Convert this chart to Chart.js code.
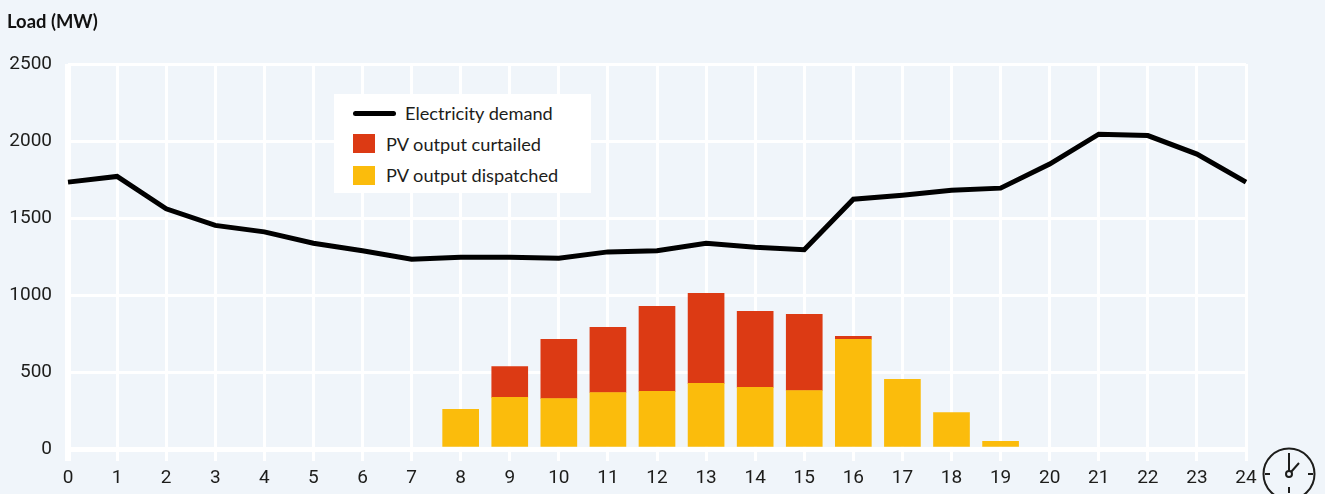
<!DOCTYPE html>
<html>
<head>
<meta charset="utf-8">
<title>Load chart</title>
<script src="https://cdn.jsdelivr.net/npm/chart.js@4"></script>
<style>
  html, body { margin: 0; padding: 0; background: #f0f5fa; overflow: hidden; }
  body { width: 1325px; height: 494px; position: relative; font-family: Lato, sans-serif; color: #1d1d1b; }
  #wrap { position: absolute; left: 0; top: 0; width: 1325px; height: 494px; }
  #axisTitle { position: absolute; left: 7px; top: 11px; font-size: 18.4px; line-height: 20px; font-weight: 700; color: #111; }
  #legend { position: absolute; left: 334px; top: 94px; width: 257px; height: 99px; background: #fff; font-size: 18.2px; }
  #legend div { position: absolute; white-space: nowrap; line-height: 20px; }
  #legend i { position: absolute; display: block; }
  #clock { position: absolute; left: 1260px; top: 445px; }
</style>
</head>
<body>
<div id="wrap"><canvas id="myChart" width="1325" height="494"></canvas></div>
<div id="axisTitle">Load (MW)</div>
<div id="legend">
  <i style="left:19px;top:17px;width:43px;height:5px;background:#000;border-radius:2.5px"></i>
  <div id="lgDemand" style="left:71px;top:9px"></div>
  <i style="left:19px;top:40px;width:22px;height:19px;background:#dc3a14"></i>
  <div id="lgCurtailed" style="left:52px;top:40px"></div>
  <i style="left:19px;top:72px;width:22px;height:19px;background:#fbbc0c"></i>
  <div id="lgDispatched" style="left:52px;top:71px"></div>
</div>
<svg id="clock" width="60" height="49" viewBox="0 0 60 49" fill="none" stroke="#1d1d1b" stroke-width="2">
  <circle cx="29" cy="29" r="25.5"/>
  <circle cx="29" cy="29" r="3"/>
  <path d="M29 26V8M31 27L39 18M5 29H10M48 29H53M29 48V42"/>
</svg>
<script>
const hours = ['0','1','2','3','4','5','6','7','8','9','10','11','12','13','14','15','16','17','18','19','20','21','22','23','24'];
const yTicks = [0, 500, 1000, 1500, 2000, 2500];

const demandName = 'Electricity demand';
const curtailedName = 'PV output curtailed';
const dispatchedName = 'PV output dispatched';

const demand = [1733, 1770, 1560, 1452, 1410, 1336, 1287, 1232, 1245, 1245, 1238, 1280, 1287, 1336, 1310, 1294, 1622, 1648, 1680, 1694, 1850, 2044, 2035, 1915, 1733];
const dispatched = [null, null, null, null, null, null, null, null, 257, 335, 328, 367, 374, 426, 400, 380, 712, 452, 237, 49, null, null, null, null, null];
const curtailed = [null, null, null, null, null, null, null, null, null, 201, 384, 423, 552, 585, 494, 494, 19, null, null, null, null, null, null, null, null];

document.getElementById('lgDemand').textContent = demandName;
document.getElementById('lgCurtailed').textContent = curtailedName;
document.getElementById('lgDispatched').textContent = dispatchedName;

const ctx = document.getElementById('myChart').getContext('2d');

const myChart = new Chart(ctx, {
    type: 'bar',
    data: {
        labels: hours,
        datasets: [
            {
                type: 'line',
                label: demandName,
                data: demand,
                borderColor: '#000',
                borderWidth: 5,
                pointRadius: 0,
                tension: 0,
                stack: 'demand',
                order: 0
            },
            {
                label: dispatchedName,
                data: dispatched,
                backgroundColor: '#fbbc0c',
                barThickness: 36,
                stack: 'pv',
                order: 1
            },
            {
                label: curtailedName,
                data: curtailed,
                backgroundColor: '#dc3a14',
                barThickness: 36,
                stack: 'pv',
                order: 1
            }
        ]
    },
    options: {
        responsive: false,
        animation: false,
        layout: { padding: { top: 64, right: 79, left: 0, bottom: 0 } },
        plugins: {
            legend: { display: false },
            tooltip: { enabled: false }
        },
        scales: {
            x: {
                offset: false,
                stacked: true,
                afterFit: (s) => { s.height = 45; },
                border: { display: false },
                grid: {
                    offset: false,
                    color: '#fff',
                    lineWidth: (c) => c.index === 0 ? 6 : 3,
                    tickLength: 12,
                    drawTicks: true
                },
                ticks: {
                    color: '#1d1d1b',
                    font: { family: 'Roboto', size: 19 },
                    padding: 6,
                    maxRotation: 0,
                    autoSkip: false
                }
            },
            y: {
                stacked: true,
                min: 0,
                max: 2500,
                afterFit: (s) => { s.width = 68; },
                afterBuildTicks: (s) => { s.ticks = yTicks.map((v) => ({ value: v })); },
                border: { display: false },
                grid: {
                    color: '#fff',
                    lineWidth: (c) => c.tick.value === 0 ? 5 : 3,
                    drawTicks: false
                },
                ticks: {
                    color: '#1d1d1b',
                    font: { family: 'Roboto', size: 19 },
                    padding: 16,
                    callback: (v) => String(v)
                }
            }
        }
    }
});
</script>
</body>
</html>
